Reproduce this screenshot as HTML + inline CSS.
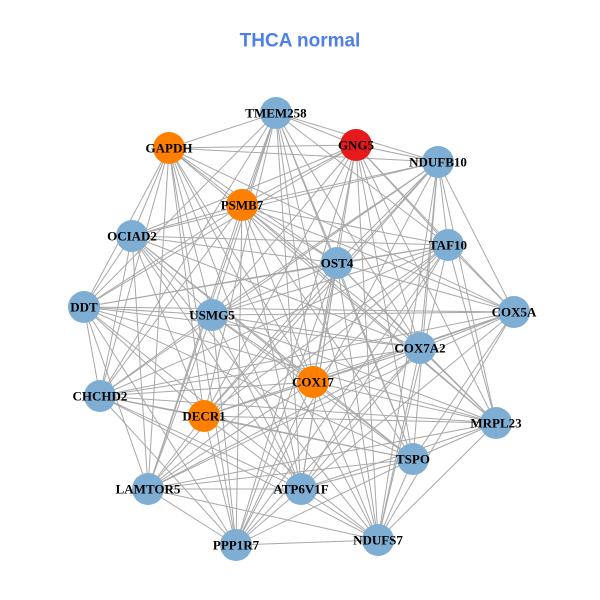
<!DOCTYPE html>
<html><head><meta charset="utf-8"><style>
html,body{margin:0;padding:0;background:#fff;}
svg{display:block;}
.l{font-family:"Liberation Serif",serif;font-weight:bold;font-size:13px;fill:#000;text-anchor:middle;dominant-baseline:central;}
</style></head><body>
<svg id="s" width="600" height="600" xmlns="http://www.w3.org/2000/svg">
<rect width="600" height="600" fill="#fff"/>
<text x="300" y="41" text-anchor="middle" dominant-baseline="central" font-family="Liberation Sans, sans-serif" font-weight="bold" font-size="19" fill="#4f7fe8">THCA normal</text>
<g id="e" stroke="#a8a8a8" stroke-width="1" fill="none"></g>
<g id="n"></g>
<g>
<text class="l" x="276" y="113">TMEM258</text>
<text class="l" x="169" y="148">GAPDH</text>
<text class="l" x="356" y="145">GNG5</text>
<text class="l" x="438" y="162">NDUFB10</text>
<text class="l" x="242" y="205">PSMB7</text>
<text class="l" x="132" y="236">OCIAD2</text>
<text class="l" x="448" y="245">TAF10</text>
<text class="l" x="337" y="263">OST4</text>
<text class="l" x="84" y="307">DDT</text>
<text class="l" x="212" y="315">USMG5</text>
<text class="l" x="514" y="312">COX5A</text>
<text class="l" x="420" y="348">COX7A2</text>
<text class="l" x="100" y="396">CHCHD2</text>
<text class="l" x="313" y="382">COX17</text>
<text class="l" x="204" y="416">DECR1</text>
<text class="l" x="496" y="423">MRPL23</text>
<text class="l" x="413" y="459">TSPO</text>
<text class="l" x="148" y="489">LAMTOR5</text>
<text class="l" x="301" y="489">ATP6V1F</text>
<text class="l" x="378" y="540">NDUFS7</text>
<text class="l" x="236" y="545">PPP1R7</text>
</g>
</svg>
<script>
var N=[[276,113,"b"],[169,148,"o"],[356,145,"r"],[438,162,"b"],[242,205,"o"],[132,236,"b"],[448,245,"b"],[337,263,"b"],[84,307,"b"],[212,315,"b"],[514,312,"b"],[420,348,"b"],[100,396,"b"],[313,382,"o"],[204,416,"o"],[496,423,"b"],[413,459,"b"],[148,489,"b"],[301,489,"b"],[378,540,"b"],[236,545,"b"]];
var C={b:"#7eaed3",o:"#ff8000",r:"#e41a1c"};
var ns="http://www.w3.org/2000/svg",e=document.getElementById("e"),g=document.getElementById("n");
for(var i=0;i<N.length;i++)for(var j=i+1;j<N.length;j++){
 if((i*7+j*3)%5==0)continue;
 var l=document.createElementNS(ns,"line");
 l.setAttribute("x1",N[i][0]);l.setAttribute("y1",N[i][1]);l.setAttribute("x2",N[j][0]);l.setAttribute("y2",N[j][1]);e.appendChild(l);}
N.forEach(function(p){var c=document.createElementNS(ns,"circle");c.setAttribute("cx",p[0]);c.setAttribute("cy",p[1]);c.setAttribute("r",16);c.setAttribute("fill",C[p[2]]);g.appendChild(c);});
</script>
</body></html>
